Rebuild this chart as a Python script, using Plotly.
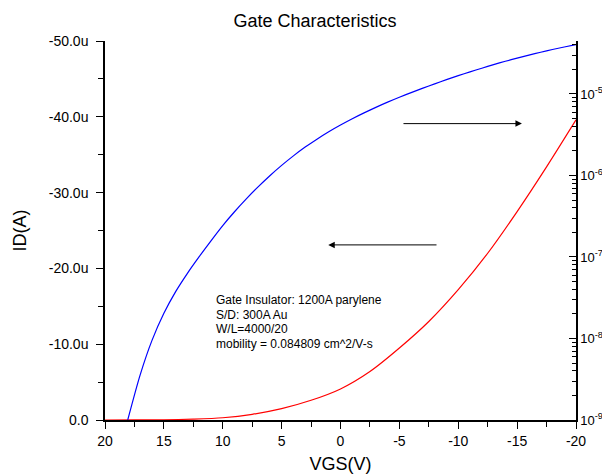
import plotly.graph_objects as go

# ---- data ----
vgs_lin = [20, 17.5, 15, 12.5, 10, 7.5, 5, 2.5, 0, -2.5, -5, -7.5, -10, -12.5, -15, -17.5, -20]
id_lin_uA = [0.0, -0.005, -0.03, -0.12, -0.3, -0.75, -1.5, -2.6, -4.1, -6.4, -9.5, -13.0,
             -17.2, -22.0, -27.5, -33.4, -39.6]

vgs_log = [18.07, 17, 16, 15, 14, 13, 12, 11, 10, 9, 8, 7, 6, 5, 4, 3, 2, 1, 0,
           -1, -2, -3, -4, -5, -6, -7, -8, -9, -10, -11, -12, -13, -14, -15,
           -16, -17, -18, -19, -20]
id_abs_A = [1.0e-9, 3.63e-9, 9.55e-9, 2.04e-8, 3.76e-8, 6.31e-8, 1.01e-7, 1.58e-7, 2.43e-7,
            3.59e-7, 5.16e-7, 7.24e-7, 9.93e-7, 1.33e-6, 1.74e-6, 2.23e-6, 2.79e-6, 3.44e-6,
            4.16e-6, 4.97e-6, 5.86e-6, 6.85e-6, 7.94e-6, 9.12e-6, 1.04e-5, 1.18e-5, 1.33e-5,
            1.50e-5, 1.68e-5, 1.87e-5, 2.07e-5, 2.29e-5, 2.52e-5, 2.75e-5, 3.00e-5,
            3.25e-5, 3.51e-5, 3.77e-5, 4.03e-5]

x_ticks = [20, 15, 10, 5, 0, -5, -10, -15, -20]
x_ticktext = ["20", "15", "10", "5", "0", "-5", "-10", "-15", "-20"]
y_ticks = [0, -10, -20, -30, -40, -50]
y_ticktext = ["0.0", "-10.0u", "-20.0u", "-30.0u", "-40.0u", "-50.0u"]
y2_exponents = [-9, -8, -7, -6, -5]
y2_ticks = [10.0 ** e for e in y2_exponents]
y2_ticktext = ["10<sup>%d</sup>" % e for e in y2_exponents]
y2_minor = [k * 10.0 ** e for e in range(-9, -4) for k in range(2, 10)]

note_lines = ["Gate Insulator: 1200A parylene", "S/D: 300A Au", "W/L=4000/20",
              "mobility = 0.084809 cm^2/V-s"]

FONT = "Liberation Sans, Arial, sans-serif"

# the page body has an 8px default margin, so the figure is sized to fit the window
PAGE_PAD = 8
W, H = 610 - PAGE_PAD, 476 - PAGE_PAD

fig = go.Figure()
fig.add_trace(go.Scatter(x=vgs_lin, y=id_lin_uA, mode="lines",
                         line=dict(color="#ff0000", width=1.2, shape="spline", smoothing=0.8),
                         yaxis="y", showlegend=False))
fig.add_trace(go.Scatter(x=vgs_log, y=id_abs_A, mode="lines",
                         line=dict(color="#0000ff", width=1.2, shape="spline", smoothing=0.8),
                         yaxis="y2", showlegend=False))

axis_common = dict(showline=True, linecolor="black", linewidth=1.5, showgrid=False, zeroline=False,
                   automargin=False, tickcolor="black")

fig.update_layout(
    width=W, height=H,
    margin=dict(l=105 - PAGE_PAD, r=34, t=41 - PAGE_PAD, b=56),
    paper_bgcolor="white", plot_bgcolor="white",
    font=dict(family=FONT, color="black"),
    title=dict(text="Gate Characteristics", x=(315 - PAGE_PAD) / W, xanchor="center",
               y=1 - (21 - PAGE_PAD) / H, yanchor="middle",
               font=dict(family=FONT, size=18, color="black")),
    xaxis=dict(range=[20, -20], tickmode="array", tickvals=x_ticks, ticktext=x_ticktext,
               ticks="outside", ticklen=7, tickwidth=1.3,
               tickfont=dict(family=FONT, size=14, color="black"),
               minor=dict(tickmode="linear", tick0=0, dtick=2.5, ticks="outside", ticklen=5, tickwidth=1.3,
                          tickcolor="black", showgrid=False),
               title=dict(text="VGS(V)", font=dict(family=FONT, size=18), standoff=10),
               **axis_common),
    yaxis=dict(range=[0, -50], tickmode="array", tickvals=y_ticks, ticktext=y_ticktext,
               ticks="outside", ticklen=7, tickwidth=1.3, ticklabelstandoff=5,
               tickfont=dict(family=FONT, size=14, color="black"),
               minor=dict(tickmode="linear", tick0=0, dtick=5, ticks="outside", ticklen=5, tickwidth=1.3,
                          tickcolor="black", showgrid=False),
               title=dict(text="ID(A)", font=dict(family=FONT, size=18), standoff=17),
               **axis_common),
    yaxis2=dict(overlaying="y", side="right", type="log", range=[-9, -4.35],
                tickmode="array", tickvals=y2_ticks, ticktext=y2_ticktext,
                ticks="inside", ticklen=7, tickwidth=1.3, ticklabelstandoff=0,
                tickfont=dict(family=FONT, size=13, color="black"),
                minor=dict(tickmode="array", tickvals=y2_minor, ticks="inside", ticklen=4, tickwidth=1.3,
                           tickcolor="black", showgrid=False),
                **axis_common),
)

fig.add_annotation(x=-15.41, y=-39.1, ax=-5.22, ay=-39.1, xref="x", yref="y", axref="x", ayref="y",
                   text="", showarrow=True, arrowhead=2, arrowsize=1.3, arrowwidth=1, arrowcolor="black")
fig.add_annotation(x=1.04, y=-23.1, ax=-8.28, ay=-23.1, xref="x", yref="y", axref="x", ayref="y",
                   text="", showarrow=True, arrowhead=2, arrowsize=1.3, arrowwidth=1, arrowcolor="black")

note_x = 10.75
note_y0 = -15.79   # first line centre (left-axis units)
note_step = 1.9    # line spacing (left-axis units)
for i, line in enumerate(note_lines):
    fig.add_annotation(x=note_x, y=note_y0 + i * note_step, xref="x", yref="y",
                       xanchor="left", yanchor="middle", align="left",
                       text=line, showarrow=False,
                       font=dict(family=FONT, size=12, color="black"))

fig.write_html("out.html")
